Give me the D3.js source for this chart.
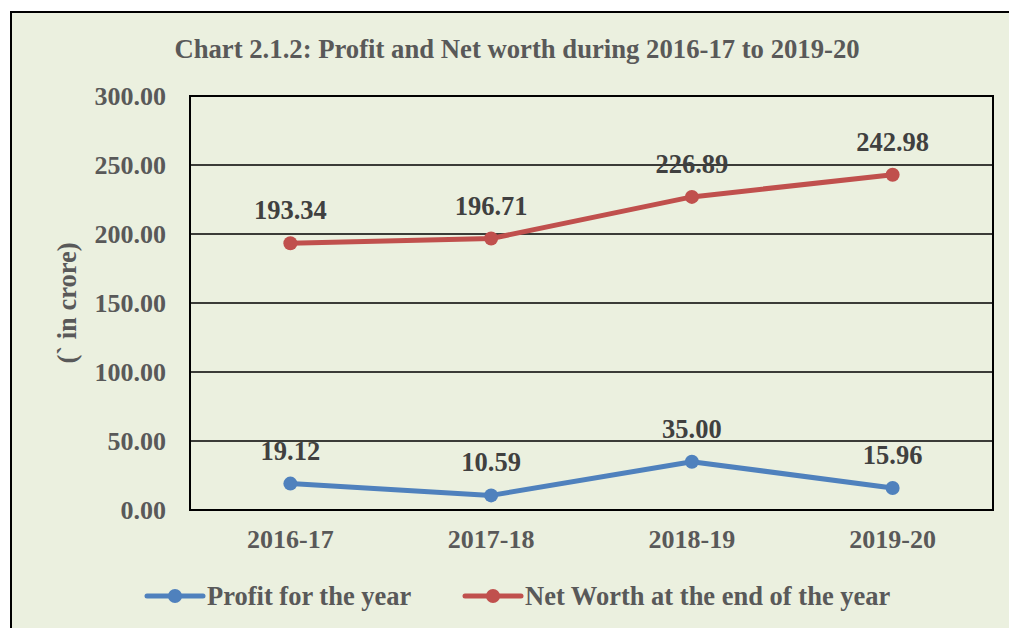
<!DOCTYPE html>
<html><head><meta charset="utf-8">
<script src="https://cdn.jsdelivr.net/npm/d3@7"></script>
<style>html,body{margin:0;padding:0;background:#fff;}svg{display:block;}</style>
</head><body>
<script>
const categories = ["2016-17","2017-18","2018-19","2019-20"];
const profit = [19.12, 10.59, 35.00, 15.96];
const netWorth = [193.34, 196.71, 226.89, 242.98];
const yTicks = [0,50,100,150,200,250,300];
const seriesNames = ["Profit for the year","Net Worth at the end of the year"];
const title = "Chart 2.1.2: Profit and Net worth during 2016-17 to 2019-20";
const yTitle = "(` in crore)";

const W = 1009, H = 628;
const font = "'Liberation Serif','Times New Roman',serif";
const svg = d3.select("body").append("svg").attr("width", W).attr("height", H);
svg.append("rect").attr("x",0).attr("y",0).attr("width",W).attr("height",H).attr("fill","#fff");
svg.append("rect").attr("x",11).attr("y",12).attr("width",W+20).attr("height",H+20)
  .attr("fill","#EBF0DF").attr("stroke","#000").attr("stroke-width",2);

const L=190, R=993, T=96, B=510;
const x = d3.scaleBand().domain(categories).range([L,R]);
const y = d3.scaleLinear().domain([0,300]).range([B,T]);

// gridlines
svg.append("g").selectAll("line").data(yTicks).join("line")
  .attr("x1",L).attr("x2",R).attr("y1",d=>y(d)).attr("y2",d=>y(d))
  .attr("stroke","#000").attr("stroke-width",1.5);
svg.append("rect").attr("x",L).attr("y",T).attr("width",R-L).attr("height",B-T)
  .attr("fill","none").attr("stroke","#000").attr("stroke-width",2);

// y axis labels
const yAxis = d3.axisLeft(y).tickValues(yTicks).tickFormat(d3.format(".2f")).tickSize(0).tickPadding(24);
const ga = svg.append("g").attr("transform",`translate(${L},0)`).call(yAxis);
ga.select(".domain").remove();
ga.selectAll("text").attr("font-family",font).attr("font-weight","bold").attr("font-size",26).attr("fill","#595959");

const xAxis = d3.axisBottom(x).tickSize(0).tickPadding(20);
const gx = svg.append("g").attr("transform",`translate(0,${B})`).call(xAxis);
gx.select(".domain").remove();
gx.selectAll("text").attr("font-family",font).attr("font-weight","bold").attr("font-size",26).attr("fill","#595959");

// title
svg.append("text").attr("x",517).attr("y",58).attr("text-anchor","middle")
  .attr("font-family",font).attr("font-weight","bold").attr("font-size",26.7).attr("fill","#595959").text(title);
svg.append("text").attr("transform","translate(76,303) rotate(-90)").attr("text-anchor","middle")
  .attr("font-family",font).attr("font-weight","bold").attr("font-size",26.5).attr("fill","#595959").text(yTitle);

const colors = ["#4F81BD","#C0504D"];
const data = [profit, netWorth];
const cx = c => x(c) + x.bandwidth()/2;
const line = d3.line().x((d,i)=>cx(categories[i])).y(d=>y(d));
data.forEach((s,k)=>{
  svg.append("path").attr("d",line(s)).attr("fill","none").attr("stroke",colors[k]).attr("stroke-width",5).attr("stroke-linejoin","round");
  svg.append("g").selectAll("circle").data(s).join("circle")
    .attr("cx",(d,i)=>cx(categories[i])).attr("cy",d=>y(d)).attr("r",7).attr("fill",colors[k]);
  svg.append("g").selectAll("text").data(s).join("text")
    .attr("x",(d,i)=>cx(categories[i])).attr("y",d=>y(d)-24).attr("text-anchor","middle")
    .attr("font-family",font).attr("font-weight","bold").attr("font-size",26.5).attr("fill","#404040")
    .text(d=>d3.format(".2f")(d));
});

// legend
const legendX = [147, 465];
seriesNames.forEach((n,k)=>{
  const g = svg.append("g").attr("transform",`translate(${legendX[k]},596)`);
  g.append("line").attr("x1",0).attr("x2",56).attr("y1",0).attr("y2",0).attr("stroke",colors[k]).attr("stroke-width",5).attr("stroke-linecap","round");
  g.append("circle").attr("cx",28).attr("cy",0).attr("r",7).attr("fill",colors[k]);
  g.append("text").attr("x",60).attr("y",9).attr("font-family",font).attr("font-weight","bold").attr("font-size",26.5).attr("fill","#595959").text(n);
});
</script>
</body></html>
